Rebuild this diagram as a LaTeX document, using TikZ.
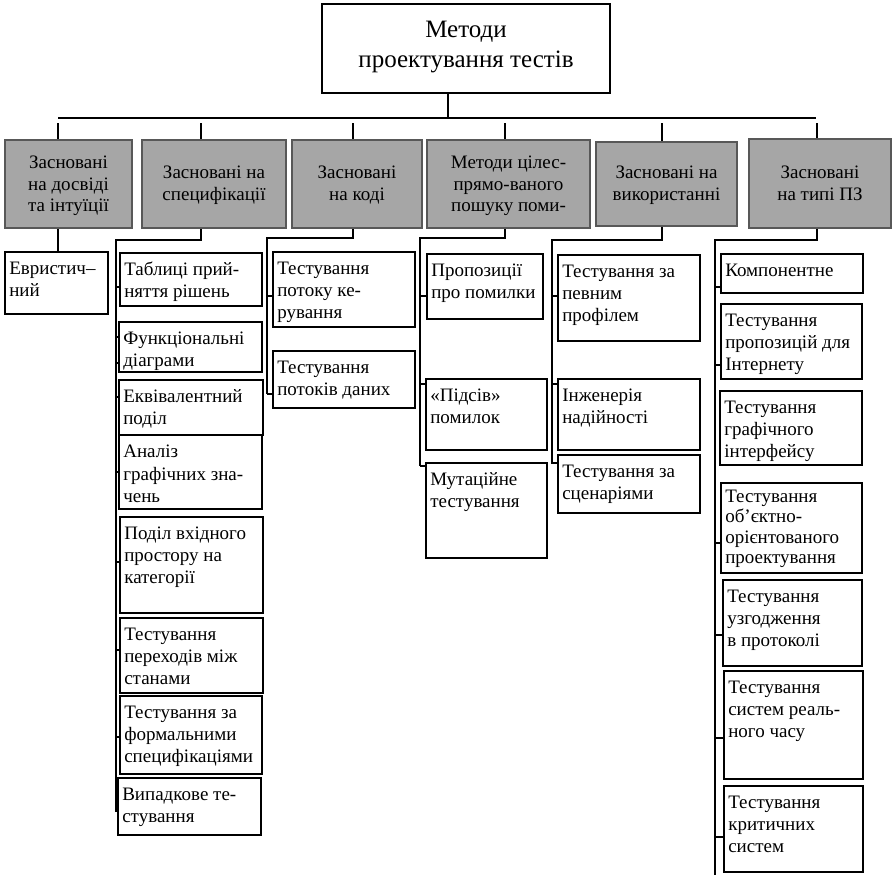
\documentclass[tikz,border=0pt]{standalone}
\usepackage{fontspec}
\setmainfont{Liberation Serif}
\usetikzlibrary{fit}

\definecolor{catfill}{HTML}{A6A6A6}
\definecolor{catline}{HTML}{585858}

\tikzset{
  x=1pt, y=-1pt,
  rootbox/.style={draw, line width=1.9pt, inner sep=0pt},
  roottext/.style={inner sep=0pt, align=center, font=\fontsize{25}{30}\selectfont},
  catbox/.style={draw=catline, fill=catfill, line width=2.4pt, inner sep=0pt},
  cattext/.style={inner sep=0pt, align=center, font=\fontsize{19}{21.5}\selectfont},
  leafbox/.style={draw, line width=1.8pt, inner sep=0pt},
  leaftext/.style={inner sep=0pt, anchor=north west, align=left,
    font=\fontsize{19}{22}\selectfont},
  link/.style={line width=1.2pt}
}

% leaf box: [text options], name, x1, y1, x2, y2, text (top-left aligned)
\newcommand\leafnode[7][]{%
  \node[leafbox, fit={(#3,#4) (#5,#6)}] (#2) {};
  \node[leaftext, #1] (#2t) at ([xshift=5pt,yshift=-7.8pt]#2.north west) {\strut #7};
}
% short tick from a bus line to a leaf box at height y
\newcommand\stub[3]{\draw[link] (#3 |- 0,#2) -- (#1.west |- 0,#2);}

\begin{document}
\begin{tikzpicture}
\useasboundingbox (0,0) rectangle (894,875);

% root
\node[rootbox, fit={(322,4) (610,93)}] (root) {};
\node[roottext] (roott) at ([yshift=1pt]root.center) {Методи\\проектування тестів};

% categories
\node[catbox, fit={(5,140) (132,228)}] (g1) {};
\node[cattext] (g1t) at ([yshift=-2pt]g1.center) {Засновані\\на досвіді\\та інтуїції};
\node[catbox, fit={(142,140) (286,228)}] (g2) {};
\node[cattext] (g2t) at ([yshift=-1pt]g2.center) {Засновані на\\специфікації};
\node[catbox, fit={(292,140) (422,228)}] (g3) {};
\node[cattext] (g3t) at ([yshift=-1pt]g3.center) {Засновані\\на коді};
\node[catbox, fit={(427,140) (590,228)}] (g4) {};
\node[cattext] (g4t) at ([yshift=-2pt]g4.center) {Методи цілес-\\прямо-ваного\\пошуку поми-};
\node[catbox, fit={(596,142) (737,226)}] (g5) {};
\node[cattext] (g5t) at ([yshift=-1pt]g5.center) {Засновані на\\використанні};
\node[catbox, fit={(749,139) (891,228)}] (g6) {};
\node[cattext] (g6t) at (g6.center) {Засновані\\на типі ПЗ};

% root to categories
\coordinate (hub) at (448,118);
\coordinate (hl) at (58,118);
\coordinate (hr) at (816,118);
\draw[link] (root.south -| hub) -- (hub);
\draw[link] (hl) -- (hr);
\foreach \k/\g in {58/g1, 201/g2, 353/g3, 505/g4, 662/g5, 817/g6}
  \draw[link] (\k,123) -- (\g.north -| \k,0);

% column 1
\leafnode{l11}{5}{252}{108}{314}{Евристич–\\ний}
\draw[link] (g1.south -| 58,0) -- (l11.north -| 58,0);

% column 2
\leafnode{l21}{120}{253}{262}{306}{Таблиці прий-\\няття рішень}
\leafnode{l22}{119}{322}{262}{372}{Функціональні\\діаграми}
\leafnode{l23}{119}{380}{263}{435}{Еквівалентний\\поділ}
\leafnode[font=\fontsize{19}{22.5}\selectfont]{l24}{119}{435}{262}{509}{Аналіз\\графічних зна-\\чень}
\leafnode{l25}{120}{517}{263}{613}{Поділ вхідного\\простору на\\категорії}
\leafnode{l26}{120}{618}{263}{693}{Тестування\\переходів між\\станами}
\leafnode{l27}{120}{696}{262}{774}{Тестування за\\формальними\\специфікаціями}
\leafnode{l28}{118}{778}{261}{835}{Випадкове те-\\стування}
\coordinate (c2) at (201,240);
\coordinate (d2) at (116,812);
\draw[link] (g2.south -| c2) -- (c2) -| (d2);
\stub{l21}{287}{d2}
\stub{l22}{337}{d2}
\stub{l22}{363}{d2}
\stub{l23}{397}{d2}
\stub{l24}{472}{d2}
\stub{l25}{562}{d2}
\stub{l26}{650}{d2}
\stub{l27}{737}{d2}

% column 3
\leafnode{l31}{273}{252}{415}{327}{Тестування\\потоку ке-\\рування}
\leafnode{l32}{273}{351}{415}{408}{Тестування\\потоків даних}
\coordinate (c3) at (353,238);
\coordinate (d3) at (267,394);
\draw[link] (g3.south -| c3) -- (c3) -| (d3);
\stub{l31}{296}{d3}
\stub{l32}{394}{d3}

% column 4
\leafnode{l41}{427}{254}{543}{319}{Пропозиції\\про помилки}
\leafnode{l42}{426}{379}{547}{450}{«Підсів»\\помилок}
\leafnode{l43}{426}{463}{547}{558}{Мутаційне\\тестування}
\coordinate (c4) at (505,238);
\coordinate (d4) at (420,466);
\draw[link] (g4.south -| c4) -- (c4) -| (d4);
\stub{l41}{296}{d4}
\stub{l42}{384}{d4}
\stub{l43}{466}{d4}

% column 5
\leafnode{l51}{558}{255}{700}{341}{Тестування за\\певним\\профілем}
\leafnode{l52}{558}{379}{700}{450}{Інженерія\\надійності}
\leafnode{l53}{558}{455}{700}{513}{Тестування за\\сценаріями}
\coordinate (c5) at (662,240);
\coordinate (d5) at (552,464);
\draw[link] (g5.south -| c5) -- (c5) -| (d5);
\stub{l51}{296}{d5}
\stub{l52}{384}{d5}
\stub{l53}{463}{d5}

% column 6
\leafnode{l61}{721}{254}{863}{293}{Компонентне}
\leafnode{l62}{721}{304}{862}{379}{Тестування\\пропозицій для\\Інтернету}
\leafnode{l63}{720}{391}{862}{465}{Тестування\\графічного\\інтерфейсу}
\leafnode[yshift=1.5pt, font=\fontsize{19}{20.2}\selectfont]{l64}{721}{483}{862}{573}{Тестування\\об’єктно-\\орієнтованого\\проектування}
\leafnode{l65}{723}{580}{862}{666}{Тестування\\узгодження\\в протоколі}
\leafnode{l66}{724}{671}{863}{779}{Тестування\\систем реаль-\\ного часу}
\leafnode{l67}{724}{786}{863}{872}{Тестування\\критичних\\систем}
\coordinate (c6) at (817,240);
\coordinate (d6) at (715,875);
\draw[link] (g6.south -| c6) -- (c6) -| (d6);
\stub{l61}{287}{d6}
\stub{l62}{365}{d6}
\stub{l64}{543}{d6}
\stub{l65}{635}{d6}
\stub{l66}{738}{d6}
\stub{l67}{837}{d6}

\end{tikzpicture}
\end{document}
